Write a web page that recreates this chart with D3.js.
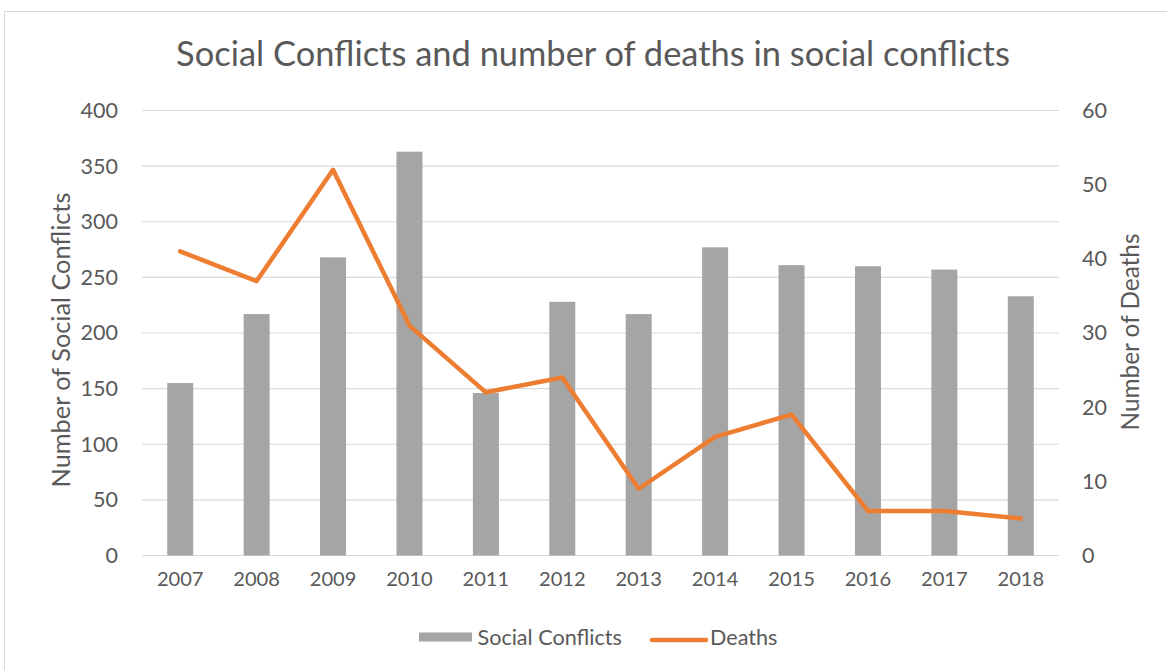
<!DOCTYPE html>
<html><head><meta charset="utf-8">
<script src="https://cdn.jsdelivr.net/npm/d3@7"></script>
<style>body{margin:0;background:#fff}svg{display:block}text{font-family:Lato,"Open Sans",sans-serif;fill:#595959}</style>
</head><body>
<script>
const years = ["2007","2008","2009","2010","2011","2012","2013","2014","2015","2016","2017","2018"];
const conflicts = [155,217,268,363,146,228,217,277,261,260,257,233];
const deaths = [41,37,52,31,22,24,9,16,19,6,6,5];
const leftTicks = [0,50,100,150,200,250,300,350,400];
const rightTicks = [0,10,20,30,40,50,60];

const W=1167,H=670;
const svg=d3.select("body").append("svg").attr("width",W).attr("height",H);
svg.append("rect").attr("x",4.5).attr("y",11.5).attr("width",1170).attr("height",670).attr("fill","#fff").attr("stroke","#d9d9d9");

// font size that makes a string reach a target width
function fit(str,target){
  const t=svg.append("text").attr("font-size",100).text(str);
  const w=t.node().getComputedTextLength(); t.remove();
  return 100*target/w;
}
const fsTick=fit("60",25), fsYear=fit("2007",46.7), fsTitle=fit("Social Conflicts and number of deaths in social conflicts",834);
const fsLT=fit("Number of Social Conflicts",295), fsRT=fit("Number of Deaths",197), fsLeg=fit("Social Conflicts",144.4);

const m={l:142,r:1059,t:110.5,b:555.5};
const x=d3.scaleBand().domain(years).range([m.l,m.r]).paddingInner(0.66).paddingOuter(0.33);
const yL=d3.scaleLinear().domain([0,400]).range([m.b,m.t]);
const yR=d3.scaleLinear().domain([0,60]).range([m.b,m.t]);

svg.append("g").selectAll("line").data(leftTicks).join("line")
 .attr("x1",m.l).attr("x2",m.r).attr("y1",d=>yL(d)).attr("y2",d=>yL(d))
 .attr("stroke","#d9d9d9").attr("stroke-width",1.2);

const gL=svg.append("g").attr("transform",`translate(118,0)`)
 .call(d3.axisLeft(yL).tickValues(leftTicks).tickSize(0).tickPadding(0));
gL.select(".domain").remove();
gL.selectAll("text").attr("font-size",fsTick).style("font-family","Lato,sans-serif").attr("fill","#595959");

const gR=svg.append("g").attr("transform",`translate(1082,0)`)
 .call(d3.axisRight(yR).tickValues(rightTicks).tickSize(0).tickPadding(0));
gR.select(".domain").remove();
gR.selectAll("text").attr("font-size",fsTick).style("font-family","Lato,sans-serif").attr("fill","#595959");

svg.append("g").selectAll("rect").data(years).join("rect")
 .attr("x",d=>x(d)).attr("width",x.bandwidth())
 .attr("y",(d,i)=>yL(conflicts[i])).attr("height",(d,i)=>yL(0)-yL(conflicts[i]))
 .attr("fill","#a5a5a5");

const line=d3.line().x((d,i)=>x(years[i])+x.bandwidth()/2).y(d=>yR(d));
svg.append("path").datum(deaths).attr("d",line).attr("fill","none")
 .attr("stroke","#ed7d31").attr("stroke-width",4.5).attr("stroke-linejoin","round").attr("stroke-linecap","round");

const gX=svg.append("g").attr("transform",`translate(0,${m.b+10})`)
 .call(d3.axisBottom(x).tickSize(0).tickPadding(6));
gX.select(".domain").remove();
gX.selectAll("text").attr("font-size",fsYear).style("font-family","Lato,sans-serif").attr("fill","#595959");

svg.append("text").attr("x",593).attr("y",66).attr("text-anchor","middle").attr("font-size",fsTitle).text("Social Conflicts and number of deaths in social conflicts");

svg.append("text").attr("transform","translate(70,340) rotate(-90)").attr("text-anchor","middle").attr("font-size",fsLT).text("Number of Social Conflicts");
svg.append("text").attr("transform","translate(1139,332) rotate(-90)").attr("text-anchor","middle").attr("font-size",fsRT).text("Number of Deaths");

const lg=svg.append("g");
lg.append("rect").attr("x",419).attr("y",632.5).attr("width",53).attr("height",9).attr("fill","#a5a5a5");
lg.append("text").attr("x",477.5).attr("y",645).attr("font-size",fsLeg).text("Social Conflicts");
lg.append("line").attr("x1",652).attr("x2",706).attr("y1",640).attr("y2",640).attr("stroke","#ed7d31").attr("stroke-width",4.5).attr("stroke-linecap","round");
lg.append("text").attr("x",710).attr("y",645).attr("font-size",fsLeg).text("Deaths");
</script>
</body></html>
